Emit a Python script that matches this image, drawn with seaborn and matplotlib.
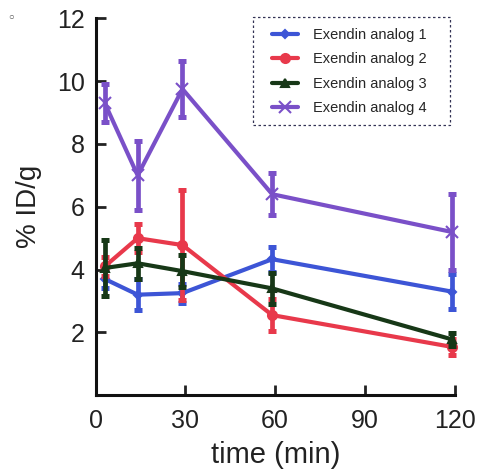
import matplotlib
matplotlib.use("Agg")
import matplotlib.pyplot as plt
from matplotlib.patches import Rectangle
import seaborn as sns
import pandas as pd
import numpy as np

times = [3, 14, 29, 59, 119]
series_names = ["Exendin analog 1", "Exendin analog 2", "Exendin analog 3", "Exendin analog 4"]
analog1 = [3.7, 3.2, 3.25, 4.33, 3.3]
analog1_err = [0.3, 0.5, 0.3, 0.4, 0.55]
analog2 = [4.1, 5.0, 4.78, 2.55, 1.54]
analog2_err = [0.3, 0.45, 1.75, 0.5, 0.25]
analog3 = [4.05, 4.2, 3.95, 3.4, 1.78]
analog3_err = [0.9, 0.5, 0.5, 0.5, 0.2]
analog4 = [9.3, 7.0, 9.75, 6.4, 5.2]
analog4_err = [0.6, 1.1, 0.9, 0.67, 1.2]

colors = ["#3d55d6", "#e8394b", "#173817", "#7a50c8"]
markers = ["D", "o", "^", "x"]
msizes = [8, 13, 11, 18]
medges = [3, 3, 3, 3.2]

sns.set_theme(style="ticks")
plt.rcParams["font.family"] = ["Liberation Sans", "DejaVu Sans"]

values = [analog1, analog2, analog3, analog4]
errs = [analog1_err, analog2_err, analog3_err, analog4_err]

W, H = 479, 471
fig = plt.figure(figsize=(W / 100, H / 100), dpi=100)
ax = fig.add_axes([0.2, 0.161, 0.752, 0.8])

for i, name in enumerate(series_names):
    ax.errorbar(times, values[i], yerr=errs[i], fmt="none", ecolor=colors[i],
                elinewidth=3.4, capsize=3.2, capthick=3.6, zorder=2 + i, clip_on=False)
    d = pd.DataFrame({"time": times, "value": values[i]})
    sns.lineplot(data=d, x="time", y="value", color=colors[i], marker=markers[i],
                 markersize=msizes[i], markeredgewidth=medges[i], markeredgecolor=colors[i],
                 linewidth=4.5, ax=ax, label=name, zorder=3 + i, clip_on=False)

ax.set_xlim(0, 120.5)
ax.set_ylim(0, 12)
ax.set_xticks([0, 30, 60, 90, 120])
ax.set_yticks([2, 4, 6, 8, 10, 12])
ax.tick_params(axis="both", direction="in", length=7, width=2, labelsize=18, pad=8, colors="#222222")
ax.tick_params(axis="x", pad=10)
for s in ["left", "bottom"]:
    ax.spines[s].set_linewidth(2.2)
    ax.spines[s].set_color("#111111")
ax.spines["top"].set_visible(False)
ax.spines["right"].set_visible(False)
ax.spines["left"].set_bounds(0, 12)
ax.spines["bottom"].set_bounds(0, 120)

ax.set_xlabel("time (min)", fontsize=21, color="#222222", labelpad=6)
ax.set_ylabel("% ID/g", fontsize=20, color="#222222", labelpad=11)

handles, labels = ax.get_legend_handles_labels()
if ax.get_legend() is not None:
    ax.get_legend().remove()
for i, h in enumerate(handles):
    h.set_markersize(msizes[i] * 0.5)
    h.set_markeredgewidth(1.5)
    h.set_linewidth(3)
leg = fig.legend(handles, labels, loc="upper left",
                 bbox_to_anchor=(261 / W, 1 - 17 / H),
                 fontsize=10.5, frameon=False, handlelength=1.8,
                 borderpad=0.75, labelspacing=0.72, handletextpad=1.0, borderaxespad=0)

# dashed legend box
box = Rectangle((253 / W, 1 - 125 / H), (450 - 253) / W, (125 - 17) / H,
                transform=fig.transFigure, fill=False, edgecolor="#333355",
                linestyle=(0, (2, 2)), linewidth=0.9, zorder=10)
fig.add_artist(box)

fig.text(0.017, 0.958, "○", fontsize=7, color="#555555")

fig.savefig("out.png", dpi=100)
